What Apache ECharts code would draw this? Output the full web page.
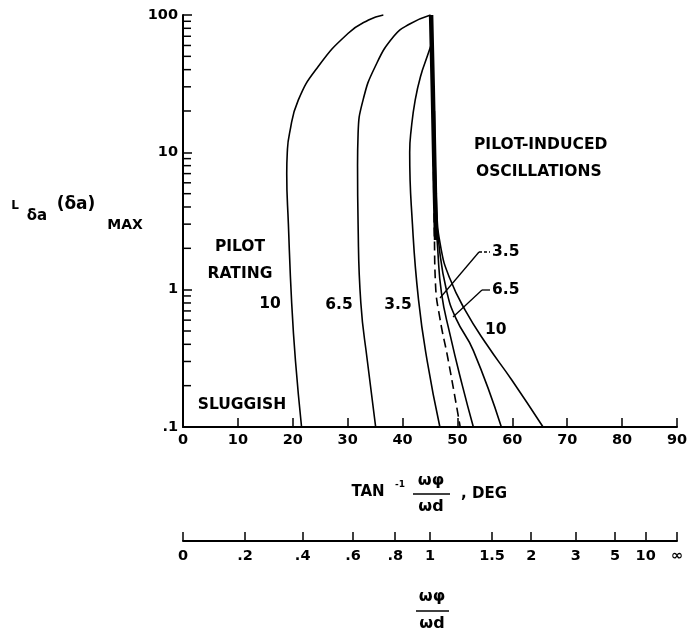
<!DOCTYPE html>
<html>
<head>
<meta charset="utf-8">
<script src="https://cdn.jsdelivr.net/npm/echarts@6/dist/echarts.min.js"></script>
<style>
  html, body { margin: 0; padding: 0; background: #fff; }
  #main { width: 693px; height: 636px; }
</style>
</head>
<body>
<div id="main"></div>
<script>
// curves: [angle deg, L(delta a) max]
const rating10Left = [[21.6, 0.1], [20.5, 0.3], [19.8, 0.8], [19.2, 3], [18.9, 7], [19.0, 10], [19.4, 13.7], [21.0, 24], [24.6, 42], [30.1, 73.6], [33.8, 92], [36.5, 100]];
const rating65Left = [[35.1, 0.1], [33.6, 0.3], [32.4, 0.8], [31.9, 3], [31.8, 8], [31.9, 13.7], [32.8, 24], [35.0, 42], [38.4, 70], [41.3, 86], [45.1, 100]];
const rating35Left = [[46.8, 0.1], [44.5, 0.3], [42.9, 0.85], [41.8, 3], [41.3, 10], [41.6, 15], [42.3, 24], [43.3, 36], [44.5, 50], [45.3, 62]];
const boundary = [[45.2, 100], [45.5, 30], [45.9, 5], [46.1, 2.3]];
const dashedRight = [[45.3, 60], [45.6, 10], [45.8, 2.5], [46.0, 1.1], [46.8, 0.62], [48.3, 0.31], [50.5, 0.1]];
const rating35Right = [[45.6, 20], [46.0, 4], [46.4, 2], [47.1, 0.94], [48.6, 0.48], [50.9, 0.2], [52.9, 0.1]];
const rating65Right = [[45.7, 20], [46.1, 4], [46.7, 2], [48.0, 0.99], [49.7, 0.62], [52.9, 0.36], [58.0, 0.1]];
const rating10Right = [[45.8, 20], [46.2, 4], [47.0, 2], [48.6, 1.21], [51.4, 0.71], [55.4, 0.395], [59.9, 0.22], [65.6, 0.1]];

// y minor ticks (log axis)
const yMinorTicks = [0.2, 0.3, 0.4, 0.5, 0.6, 0.7, 0.8, 0.9, 2, 3, 4, 5, 6, 7, 8, 9, 20, 30, 40, 50, 60, 70, 80, 90];

// second scale: omega ratio
const ratioValues = [0, 0.2, 0.4, 0.6, 0.8, 1, 1.5, 2, 3, 5, 10, Infinity];
const ratioLabels = ['0', '.2', '.4', '.6', '.8', '1', '1.5', '2', '3', '5', '10', '\u221e'];
const ratioDeg = ratioValues.map(r => Math.atan(r) * 180 / Math.PI);

const FONT = 'DejaVu Sans';
const boldText = { fontFamily: FONT, fontWeight: 'bold', fill: '#000' };

function curve(data, opts) {
  return Object.assign({
    type: 'line',
    data: data,
    smooth: 0.5,
    symbol: 'none',
    clip: false,
    lineStyle: { color: '#000', width: 1.6 }
  }, opts || {});
}

function txt(x, y, text, size, align) {
  return {
    type: 'text', x: x, y: y,
    style: Object.assign({ text: text, fontSize: size, align: align || 'center', verticalAlign: 'middle' }, boldText)
  };
}

let myChart = echarts.init(document.getElementById('main'));

const option = {
  animation: false,
  backgroundColor: '#fff',
  grid: [
    { left: 183, top: 15, width: 494, height: 412 },
    { left: 183, top: 540, width: 494, height: 1 }
  ],
  xAxis: [
    {
      type: 'value', gridIndex: 0, min: 0, max: 90, interval: 10,
      splitLine: { show: false },
      axisLine: { lineStyle: { color: '#000', width: 2 } },
      axisTick: { inside: true, length: 9, lineStyle: { color: '#000', width: 1.5 } },
      axisLabel: { color: '#000', fontFamily: FONT, fontWeight: 'bold', fontSize: 14.5, margin: 6 }
    },
    {
      type: 'value', gridIndex: 1, min: 0, max: 90, position: 'bottom',
      splitLine: { show: false },
      axisLine: { lineStyle: { color: '#000', width: 2 } },
      axisTick: { inside: true, length: 9, customValues: ratioDeg, lineStyle: { color: '#000', width: 1.5 } },
      axisLabel: {
        customValues: ratioDeg,
        color: '#000', fontFamily: FONT, fontWeight: 'bold', fontSize: 14.5, margin: 8,
        formatter: function (v) {
          let best = 0;
          ratioDeg.forEach((d, i) => { if (Math.abs(d - v) < Math.abs(ratioDeg[best] - v)) best = i; });
          return ratioLabels[best];
        }
      }
    }
  ],
  yAxis: [
    {
      type: 'log', gridIndex: 0, logBase: 10, min: 0.1, max: 100,
      splitLine: { show: false },
      axisLine: { lineStyle: { color: '#000', width: 2 } },
      axisTick: { inside: true, length: 9, lineStyle: { color: '#000', width: 1.5 } },
      axisLabel: {
        color: '#000', fontFamily: FONT, fontWeight: 'bold', fontSize: 14.5, margin: 5,
        formatter: function (v) {
          const s = String(+(+v).toPrecision(3));
          return s.indexOf('0.') === 0 ? s.slice(1) : s;
        }
      }
    },
    { type: 'value', gridIndex: 1, show: false, min: 0, max: 1 }
  ],
  series: [
    {
      type: 'custom',
      xAxisIndex: 0, yAxisIndex: 0,
      clip: false,
      data: yMinorTicks.map(v => [0, v]),
      renderItem: function (params, api) {
        const p = api.coord([api.value(0), api.value(1)]);
        return {
          type: 'line',
          shape: { x1: p[0], y1: p[1], x2: p[0] + 8, y2: p[1] },
          style: { stroke: '#000', lineWidth: 1.5 }
        };
      }
    },
    curve(rating10Left),
    curve(rating65Left),
    curve(rating35Left),
    curve(boundary, { smooth: false, lineStyle: { color: '#000', width: 4.5 } }),
    curve(dashedRight, { lineStyle: { color: '#000', width: 1.6, type: [9, 5] } }),
    curve(rating35Right),
    curve(rating65Right),
    curve(rating10Right)
  ],
  graphic: [
    // y axis title
    txt(15, 206, 'L', 12),
    txt(37, 216, '\u03b4a', 15),
    txt(76, 205, '(\u03b4a)', 17),
    txt(125, 225, 'MAX', 14),
    // region labels
    txt(474, 145, 'PILOT-INDUCED', 15.5, 'left'),
    txt(476, 172, 'OSCILLATIONS', 15.5, 'left'),
    txt(240, 247, 'PILOT', 15.5),
    txt(240, 274, 'RATING', 15.5),
    txt(270, 304, '10', 15.5),
    txt(339, 305, '6.5', 15.5),
    txt(398, 305, '3.5', 15.5),
    txt(242, 405, 'SLUGGISH', 15.5),
    txt(492, 252, '3.5', 15.5, 'left'),
    txt(492, 290, '6.5', 15.5, 'left'),
    txt(485, 330, '10', 15.5, 'left'),
    // leader lines
    { type: 'line', shape: { x1: 440, y1: 298, x2: 479, y2: 252 }, style: { stroke: '#000', lineWidth: 1.3 } },
    { type: 'line', shape: { x1: 479, y1: 252, x2: 490, y2: 252 }, style: { stroke: '#000', lineWidth: 1.3, lineDash: [3, 2] } },
    { type: 'line', shape: { x1: 453, y1: 317, x2: 482, y2: 290 }, style: { stroke: '#000', lineWidth: 1.3 } },
    { type: 'line', shape: { x1: 482, y1: 290, x2: 490, y2: 290 }, style: { stroke: '#000', lineWidth: 1.3 } },
    // x axis title
    txt(368, 492, 'TAN', 15),
    txt(400, 485, '-1', 9),
    txt(431, 481, '\u03c9\u03c6', 16),
    { type: 'line', shape: { x1: 413, y1: 494, x2: 450, y2: 494 }, style: { stroke: '#000', lineWidth: 1.5 } },
    txt(431, 507, '\u03c9d', 16),
    txt(484, 494, ', DEG', 15),
    // bottom title
    txt(432, 597, '\u03c9\u03c6', 16),
    { type: 'line', shape: { x1: 416, y1: 611, x2: 449, y2: 611 }, style: { stroke: '#000', lineWidth: 1.5 } },
    txt(432, 624, '\u03c9d', 16)
  ]
};

myChart.setOption(option);
</script>
</body>
</html>
